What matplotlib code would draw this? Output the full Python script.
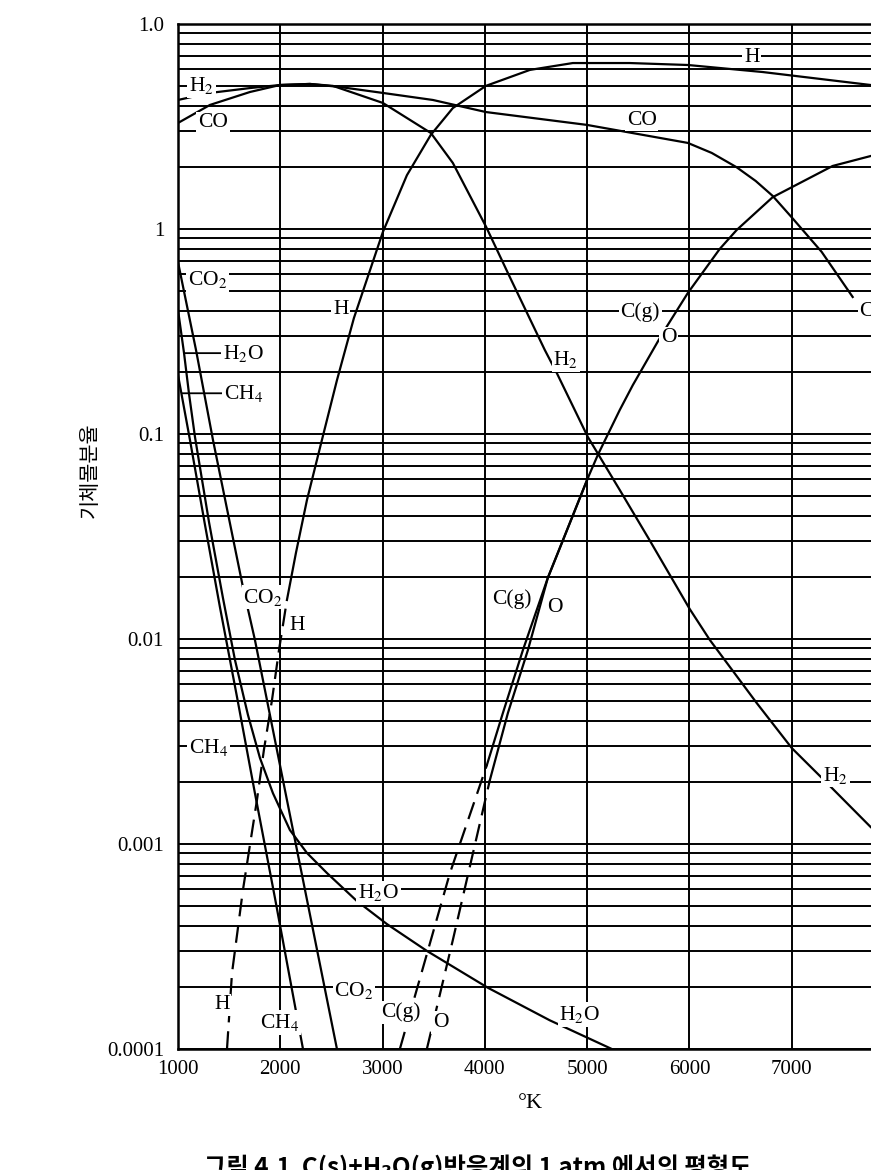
import matplotlib
matplotlib.use('Agg')
import matplotlib.pyplot as plt
from matplotlib.ticker import LogLocator, NullFormatter, FixedLocator, FixedFormatter

plt.rcParams['font.family'] = ['Liberation Serif', 'DejaVu Serif']
plt.rcParams['mathtext.fontset'] = 'stix'

# ---------------- data (temperature in K, mole fraction) ----------------
H2_T = [1000, 1313, 1704, 1997, 2290, 2515, 3003, 3472, 3687, 4010, 4244, 4586,
        4704, 5007, 5319, 5603, 6003, 6199, 6658, 7000, 7342, 7772]
H2_v = [0.426, 0.461, 0.487, 0.504, 0.510, 0.499, 0.412, 0.294, 0.210, 0.103,
        0.0583, 0.0257, 0.0198, 0.00967, 0.00533, 0.00308, 0.00140, 9.9e-4,
        4.87e-4, 2.94e-4, 1.99e-4, 1.21e-4]

CO_T = [1000, 1313, 1704, 1997, 2290, 2580, 3003, 3492, 4010, 4997, 5984, 6218,
        6462, 6648, 6814, 7000, 7293, 7596]
CO_v = [0.329, 0.403, 0.466, 0.504, 0.510, 0.493, 0.461, 0.426, 0.372, 0.322,
        0.263, 0.235, 0.200, 0.1715, 0.145, 0.114, 0.0773, 0.0466]

H_T_dash = [1479, 1528, 1635, 1772, 1840, 1919, 1987, 2065]
H_v_dash = [1.0e-5, 2.35e-5, 5.97e-5, 1.64e-4, 2.88e-4, 5.04e-4, 8.8e-4, 1.55e-3]
H_T = [2065, 2153, 2261, 2407, 2554, 2720, 3003, 3238, 3472, 3687, 4010, 4440,
       4860, 5417, 5984, 6717, 7772]
H_v = [1.55e-3, 2.63e-3, 4.77e-3, 9.35e-3, 0.0183, 0.0368, 0.0967, 0.183, 0.288,
       0.389, 0.499, 0.597, 0.645, 0.645, 0.631, 0.583, 0.504]

CO2_T = [1000, 1176, 1342, 1635, 1752, 2065, 2554]
CO2_v = [0.069, 0.0257, 0.00935, 0.00179, 9.9e-4, 1.64e-4, 1.0e-5]

H2O_T = [1000, 1059, 1107, 1166, 1303, 1440, 1557, 1684, 1801, 1928, 2094, 2261,
         2456, 2749, 3042, 3433, 4029, 4635, 5241]
H2O_v = [0.0403, 0.0248, 0.0158, 0.00967, 3.72e-3, 1.58e-3, 7.90e-4, 4.26e-4,
         2.63e-4, 1.77e-4, 1.17e-4, 9.04e-5, 7.22e-5, 5.27e-5, 4.07e-5, 3.01e-5,
         1.99e-5, 1.38e-5, 1.0e-5]

CH4_T = [1000, 1117, 1264, 1410, 1577, 1752, 1948, 2222]
CH4_v = [0.0194, 0.00935, 0.0036, 0.00143, 5.21e-4, 1.77e-4, 5.45e-5, 1.0e-5]

Cg_T_dash = [3169, 3658, 4020]
Cg_v_dash = [1.0e-5, 7.2e-5, 2.43e-4]
Cg_T = [4020, 4176, 4371, 4616, 4733, 5007, 5104, 5319, 5446, 5739, 5984, 6296,
        6462, 6814, 7400, 7772]
Cg_v = [2.43e-4, 4.35e-4, 8.8e-4, 1.99e-3, 2.78e-3, 6.10e-3, 7.90e-3, 0.0131,
        0.0173, 0.0311, 0.0487, 0.0799, 0.0989, 0.143, 0.203, 0.227]

O_T_dash = [3433, 3687, 4049]
O_v_dash = [1.0e-5, 3.4e-5, 2.05e-4]
O_T = [4049, 4225, 4420, 4616, 4733, 5007]
O_v = [2.05e-4, 4.35e-4, 8.8e-4, 1.99e-3, 2.78e-3, 6.10e-3]

x_ticks = [1000, 2000, 3000, 4000, 5000, 6000, 7000, 8000]
x_tick_labels = ['1000', '2000', '3000', '4000', '5000', '6000', '7000', '']
y_ticks = [1e-5, 1e-4, 1e-3, 1e-2, 1e-1, 1.0]
y_tick_labels = ['0.0001', '0.001', '0.01', '0.1', '1', '1.0']

# curve labels: (text, T, fraction)
curve_labels = [
    (r'H$_2$', 1230, 0.499), ('CO', 1342, 0.329), ('H', 6609, 0.690),
    ('CO', 5534, 0.340), (r'CO$_2$', 1290, 0.0564), ('H', 2590, 0.0403),
    (r'H$_2$', 4792, 0.0230), ('C(g)', 5520, 0.0394), ('O', 5798, 0.0294),
    (r'CO$_2$', 1831, 0.00160), ('H', 2163, 0.00117), ('C(g)', 4264, 0.00157),
    ('O', 4684, 0.00143), (r'CH$_4$', 1300, 2.94e-4), (r'H$_2$O', 2960, 5.77e-5),
    (r'H$_2$', 7430, 2.17e-4), ('H', 1430, 1.64e-5), (r'CH$_4$', 1997, 1.35e-5),
    (r'CO$_2$', 2720, 1.94e-5), ('C(g)', 3180, 1.51e-5), ('O', 3570, 1.35e-5),
    (r'H$_2$O', 4928, 1.47e-5),
]
# labels joined to their curve by a short leader: (text, label T, label fraction, curve T)
leader_labels = [
    (r'H$_2$O', 1640, 0.0248, 1059),
    (r'CH$_4$', 1640, 0.0158, 1040),
]
edge_label = ('CO', 7660, 0.0394)

# ---------------- figure ----------------
W, H = 871, 1170
fig = plt.figure(figsize=(W / 100, H / 100), dpi=100)
x0, x1, ytop, ybot = 178, 894, 24, 1049
ax = fig.add_axes([x0 / W, (H - ybot) / H, (x1 - x0) / W, (ybot - ytop) / H])

ax.set_yscale('log')
ax.set_xlim(1000, 8000)
ax.set_ylim(1e-5, 1.0)

lw = 1.6
dash = (0, (8, 4))
ax.plot(H2_T, H2_v, color='k', lw=lw, zorder=3)
ax.plot(CO_T, CO_v, color='k', lw=lw, zorder=3)
ax.plot(H_T, H_v, color='k', lw=lw, zorder=3)
ax.plot(H_T_dash, H_v_dash, color='k', lw=lw, ls=dash, zorder=3)
ax.plot(CO2_T, CO2_v, color='k', lw=lw, zorder=3)
ax.plot(H2O_T, H2O_v, color='k', lw=lw, zorder=3)
ax.plot(CH4_T, CH4_v, color='k', lw=lw, zorder=3)
ax.plot(Cg_T, Cg_v, color='k', lw=lw, zorder=3)
ax.plot(Cg_T_dash, Cg_v_dash, color='k', lw=lw, ls=dash, zorder=3)
ax.plot(O_T, O_v, color='k', lw=lw, zorder=3)
ax.plot(O_T_dash, O_v_dash, color='k', lw=lw, ls=dash, zorder=3)

# grid
ax.xaxis.set_major_locator(FixedLocator(x_ticks))
ax.xaxis.set_major_formatter(FixedFormatter(x_tick_labels))
ax.yaxis.set_major_locator(FixedLocator(y_ticks))
ax.yaxis.set_major_formatter(FixedFormatter(y_tick_labels))
ax.yaxis.set_minor_locator(LogLocator(base=10, subs=range(2, 10), numticks=50))
ax.yaxis.set_minor_formatter(NullFormatter())
ax.grid(True, which='major', axis='x', color='k', lw=1.4, zorder=1)
ax.grid(True, which='both', axis='y', color='k', lw=1.4, zorder=1)
ax.set_axisbelow(True)
ax.tick_params(which='both', length=0, labelsize=15)
ax.tick_params(axis='x', pad=8)
ax.tick_params(axis='y', pad=10)
for s in ax.spines.values():
    s.set_linewidth(1.8)
    s.set_color('k')

fs = 15.5
box = dict(boxstyle='square,pad=0.08', fc='white', ec='none')
for txt, t, v in curve_labels:
    ax.text(t, v, txt, ha='center', va='center', fontsize=fs, bbox=box, zorder=5)
for txt, t, v, tc in leader_labels:
    ax.annotate(txt, xy=(tc, v), xytext=(t, v), ha='center', va='center',
                fontsize=fs, bbox=box, zorder=5,
                arrowprops=dict(arrowstyle='-', color='k', lw=1.3,
                                shrinkA=0, shrinkB=0))
ax.text(edge_label[1], edge_label[2], edge_label[0], ha='left', va='center',
        fontsize=fs, bbox=box, zorder=5, clip_on=False)

fig.text(530 / W, 1 - 1104 / H, '°K', ha='center', va='center', fontsize=16)
fig.text(90 / W, 1 - 470 / H, '기체몰분율', rotation=90, ha='center', va='center',
         fontsize=15, family=['Noto Sans CJK KR', 'DejaVu Sans'])
fig.text(478 / W, 1 - 1167 / H, '그림 4.1  C(s)+H₂O(g)반응계의 1 atm 에서의 평형도',
         ha='center', va='center', fontsize=17.5, fontweight='bold',
         family=['Noto Sans CJK KR', 'DejaVu Sans'])

fig.savefig('out.png', dpi=100)
